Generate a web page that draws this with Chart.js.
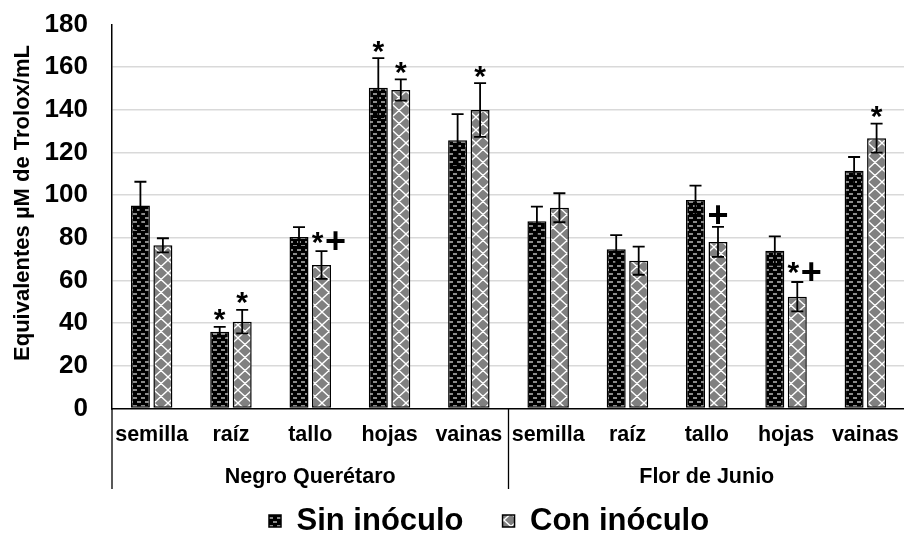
<!DOCTYPE html>
<html>
<head>
<meta charset="utf-8">
<script src="https://cdn.jsdelivr.net/npm/chart.js@4.4.1/dist/chart.umd.min.js"></script>
<style>
  html, body { margin: 0; padding: 0; background: #fff; overflow: hidden; }
  #wrap { position: relative; width: 906px; height: 541px; }
</style>
</head>
<body>
<div id="wrap"><canvas id="c"></canvas></div>
<script>
// Actividad antioxidante por órgano de la planta, dos variedades de frijol
const variedades = ['Negro Querétaro', 'Flor de Junio'];
const partes = ['semilla', 'raíz', 'tallo', 'hojas', 'vainas'];
const ticksY = [0, 20, 40, 60, 80, 100, 120, 140, 160, 180];

const sinNQ = [95.2, 36.0, 80.4, 150.4, 125.7];
const conNQ = [76.5, 40.7, 67.3, 149.3, 139.9];
const sinFJ = [87.8, 74.6, 97.7, 74.0, 111.5];
const conFJ = [94.1, 69.3, 78.1, 52.4, 126.7];

const errSinNQ = [11.1, 2.3, 4.6, 13.8, 12.3];
const errConNQ = [3.3, 5.5, 6.5, 5.0, 12.6];
const errSinFJ = [6.8, 6.7, 6.8, 6.7, 6.4];
const errConFJ = [6.8, 6.6, 7.0, 6.9, 6.8];

// * diferencia frente a semilla, + diferencia frente a sin inóculo
const marcaSinNQ = ['', '*', '', '*', ''];
const marcaConNQ = ['', '*', '*+', '*', '*'];
const marcaSinFJ = ['', '', '', '', ''];
const marcaConFJ = ['', '', '+', '*+', '*'];

const FUENTE = "'Liberation Sans', Arial, sans-serif";
const ctx = document.getElementById('c').getContext('2d');

// Relleno de ladrillos: fondo negro con guiones grises
function patronLadrillo() {
  const t = document.createElement('canvas');
  t.width = 8; t.height = 8;
  const g = t.getContext('2d');
  g.fillStyle = '#000';
  g.fillRect(0, 0, 8, 8);
  g.fillStyle = '#8a8a8a';
  g.fillRect(1, 1, 4, 2);
  g.fillRect(5, 5, 3, 2);
  g.fillRect(0, 5, 1, 2);
  return ctx.createPattern(t, 'repeat');
}

// Relleno de rombos: fondo gris con enrejado blanco
function patronRombos() {
  const w = 14, h = 13;
  const t = document.createElement('canvas');
  t.width = w; t.height = h;
  const g = t.getContext('2d');
  g.fillStyle = '#808080';
  g.fillRect(0, 0, w, h);
  g.strokeStyle = '#fff';
  g.lineWidth = 1.3;
  g.beginPath();
  for (const dx of [-w, 0, w]) {
    g.moveTo(dx, 0); g.lineTo(dx + w, h);
    g.moveTo(dx + w, 0); g.lineTo(dx, h);
  }
  g.stroke();
  return ctx.createPattern(t, 'repeat');
}

const etiquetas = partes.concat(partes);

// Barras de error y marcas de significancia
const barrasError = {
  id: 'barrasError',
  afterDatasetsDraw(chart) {
    const c = chart.ctx;
    const y = chart.scales.y;
    chart.data.datasets.forEach((ds, i) => {
      const meta = chart.getDatasetMeta(i);
      meta.data.forEach((bar, j) => {
        const v = ds.data[j];
        const e = ds.errores[j];
        const yTop = y.getPixelForValue(v + e);
        const yBot = y.getPixelForValue(v - e);
        c.save();
        c.strokeStyle = '#000';
        c.lineWidth = 1.8;
        c.beginPath();
        c.moveTo(bar.x, yTop); c.lineTo(bar.x, yBot);
        c.moveTo(bar.x - 6, yTop); c.lineTo(bar.x + 6, yTop);
        c.moveTo(bar.x - 6, yBot); c.lineTo(bar.x + 6, yBot);
        c.stroke();

        const m = ds.marcas[j];
        c.fillStyle = '#000';
        c.textAlign = 'center';
        c.textBaseline = 'alphabetic';
        if (m === '*') {
          c.font = 'bold 30px ' + FUENTE;
          c.fillText('*', bar.x, yTop - 14 + 0.55 * 30);
        } else if (m === '+') {
          c.font = 'bold 36px ' + FUENTE;
          c.fillText('+', bar.x, yTop - 11 + 0.32 * 36);
        } else if (m === '*+') {
          c.font = 'bold 30px ' + FUENTE;
          c.fillText('*', bar.x - 4, yTop - 16 + 0.55 * 30);
          c.font = 'bold 36px ' + FUENTE;
          c.fillText('+', bar.x + 14, yTop - 10 + 0.32 * 36);
        }
        c.restore();
      });
    });
  }
};

// Líneas divisorias del eje de categorías agrupado y título del eje Y
const ejeAgrupado = {
  id: 'ejeAgrupado',
  afterDraw(chart) {
    const c = chart.ctx;
    const x = chart.scales.x;
    const area = chart.chartArea;
    const medio = (x.getPixelForValue(4) + x.getPixelForValue(5)) / 2;
    c.save();
    c.strokeStyle = '#000';
    c.lineWidth = 1.3;
    c.beginPath();
    for (const px of [area.left, medio, area.right]) {
      c.moveTo(px, area.bottom);
      c.lineTo(px, 489);
    }
    c.stroke();

    c.translate(23, 203);
    c.rotate(-Math.PI / 2);
    c.fillStyle = '#000';
    c.font = 'bold 22px ' + FUENTE;
    c.textAlign = 'center';
    c.textBaseline = 'middle';
    c.fillText('Equivalentes µM de Trolox/mL', 0, 0);
    c.restore();
  }
};

// Reubica la leyenda bajo el gráfico
const posLeyenda = {
  id: 'posLeyenda',
  afterUpdate(chart) {
    const lg = chart.legend;
    if (!lg || !lg.legendHitBoxes || !lg.legendHitBoxes.length) return;
    const pad = lg.options.labels.padding;
    const dx = 269 - lg.legendHitBoxes[0].left;
    const dy = (521 - pad - 15.5) - lg.top;
    lg.left += dx; lg.right += dx;
    lg.top += dy;
    lg.bottom = chart.height;
    lg.width = lg.right - lg.left;
    lg.height = lg.bottom - lg.top;
    lg.legendHitBoxes.forEach(h => { h.left += dx; h.top += dy; });
  }
};

new Chart(ctx, {
  type: 'bar',
  data: {
    labels: etiquetas,
    datasets: [
      {
        label: 'Sin inóculo',
        data: sinNQ.concat(sinFJ),
        errores: errSinNQ.concat(errSinFJ),
        marcas: marcaSinNQ.concat(marcaSinFJ),
        backgroundColor: patronLadrillo(),
        borderColor: '#000',
        borderWidth: 1.5,
        borderSkipped: false
      },
      {
        label: 'Con inóculo',
        data: conNQ.concat(conFJ),
        errores: errConNQ.concat(errConFJ),
        marcas: marcaConNQ.concat(marcaConFJ),
        backgroundColor: patronRombos(),
        borderColor: '#000',
        borderWidth: 1.5,
        borderSkipped: false
      }
    ]
  },
  options: {
    responsive: true,
    maintainAspectRatio: false,
    animation: false,
    events: [],
    layout: { padding: { left: 10, top: 24.5, right: 1, bottom: 9.5 } },
    datasets: { bar: { categoryPercentage: 0.567, barPercentage: 0.845 } },
    scales: {
      x: {
        type: 'category',
        offset: true,
        weight: 0,
        grid: { display: false, drawTicks: false },
        border: { display: true, color: '#000', width: 1.5 },
        ticks: {
          color: '#000',
          font: { family: FUENTE, size: 21.5, weight: 'bold' },
          padding: 14,
          autoSkip: false,
          maxRotation: 0,
          minRotation: 0
        },
        afterFit(s) { s.height = 41; s.paddingLeft = 0; s.paddingRight = 0; }
      },
      x2: {
        type: 'category',
        labels: variedades,
        position: 'bottom',
        offset: true,
        weight: 1,
        grid: { display: false, drawTicks: false },
        border: { display: false },
        ticks: {
          color: '#000',
          font: { family: FUENTE, size: 21.5, weight: 'bold' },
          padding: 15,
          autoSkip: false,
          maxRotation: 0,
          minRotation: 0
        },
        afterFit(s) { s.height = 42; s.paddingLeft = 0; s.paddingRight = 0; }
      },
      y: {
        min: 0,
        max: 180,
        afterBuildTicks(s) { s.ticks = ticksY.map(v => ({ value: v })); },
        grid: {
          color: c => (c.tick && (c.tick.value === 0 || c.tick.value === 180)) ? 'rgba(0,0,0,0)' : '#d9d9d9',
          lineWidth: 1.6,
          drawTicks: false
        },
        border: { display: true, color: '#000', width: 1.5 },
        ticks: {
          color: '#000',
          font: { family: FUENTE, size: 26, weight: 'bold' },
          padding: 24
        },
        afterFit(s) { s.width = 102; s.paddingTop = 0; s.paddingBottom = 0; }
      }
    },
    plugins: {
      legend: {
        position: 'bottom',
        maxHeight: 40,
        labels: {
          color: '#000',
          font: { family: FUENTE, size: 31, weight: 'bold' },
          boxWidth: 12,
          boxHeight: 12,
          padding: 39
        }
      },
      tooltip: { enabled: false },
      title: { display: false }
    }
  },
  plugins: [barrasError, ejeAgrupado, posLeyenda]
});
</script>
</body>
</html>
